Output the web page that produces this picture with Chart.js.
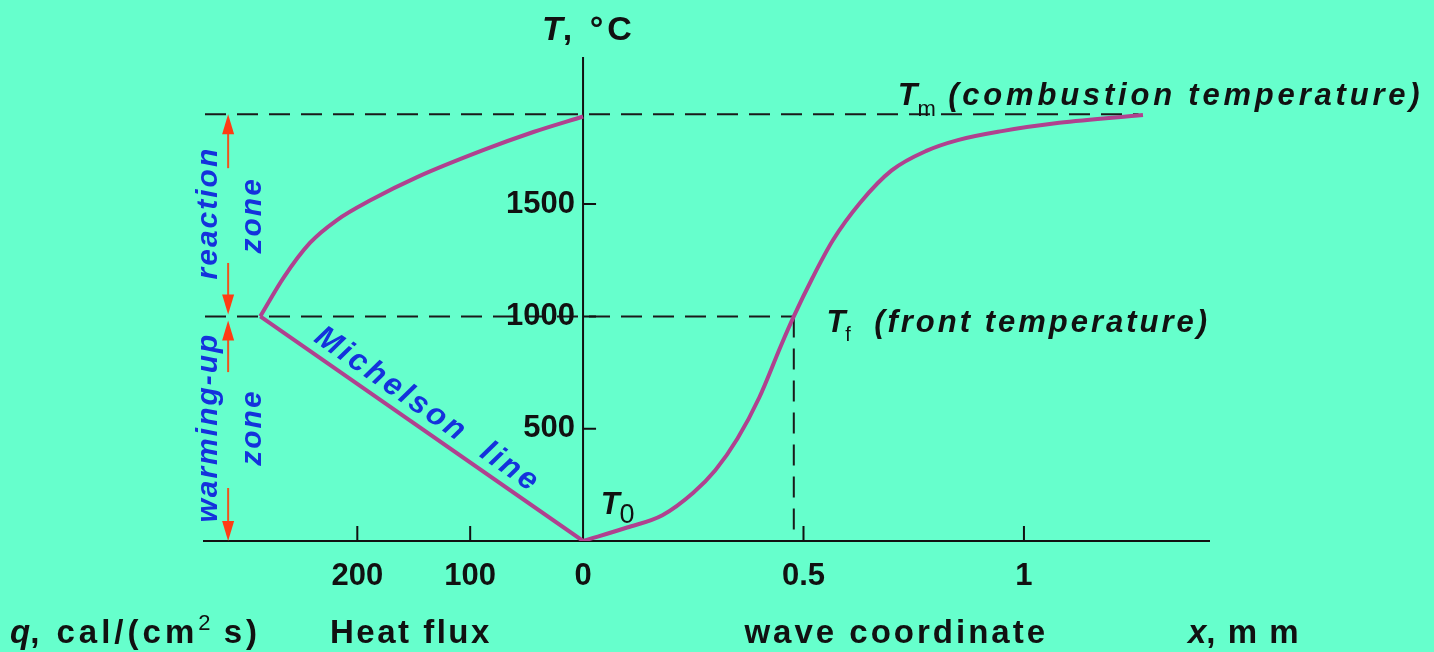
<!DOCTYPE html>
<html>
<head>
<meta charset="utf-8">
<script src="https://cdn.jsdelivr.net/npm/chart.js@4.4.1/dist/chart.umd.min.js"></script>
<style>
  html, body { margin: 0; padding: 0; background: #66ffcc; overflow: hidden; }
  #box { width: 1434px; height: 652px; position: relative; }
</style>
</head>
<body>
<div id="box"><canvas id="wave"></canvas></div>
<script>
// values
const fluxTicks = [200, 100];          // cal/(cm2 s), drawn to the left of 0
const coordTicks = [0.5, 1];           // mm, to the right of 0
const tempTicks = [500, 1000, 1500];   // degC

// Michelson line (heat flux vs temperature)
const michelsonFlux = [286, 0];
const michelsonTemp = [1000, 0];

// reaction zone branch
const reactionFlux = [286, 265, 242, 218, 188, 147, 88, 44, 0];
const reactionTemp = [1000, 1175, 1327, 1429, 1518, 1620, 1741, 1821, 1890];

// temperature profile in the combustion wave
const waveX = [0, 0.1, 0.18, 0.25, 0.3, 0.35, 0.4, 0.45, 0.478, 0.52, 0.567, 0.628, 0.7, 0.78, 0.85, 0.95, 1.08, 1.27];
const waveTemp = [0, 60, 115, 215, 315, 455, 640, 875, 1000, 1170, 1340, 1505, 1650, 1738, 1785, 1825, 1862, 1897];

const tempMax = 1900;    // Tm
const tempFront = 1000;  // Tf
const xFront = 0.478;    // where the profile reaches Tf

// the flux half shares the x axis: 100 cal/(cm2 s) takes the room of 0.256 mm
const fluxScale = 0.00256;
const fluxToX = (q) => -q * fluxScale;

const curveColor = "#b0418f";
const inkColor = "#111111";
const blueText = "#1432dc";
const arrowColor = "#f0541e";

const pts = (xs, ys) => xs.map((v, i) => ({ x: v, y: ys[i] }));

function drawRuns(ctx, x, y, runs) {
  let cx = x;
  runs.forEach((r) => {
    ctx.font = r.font;
    ctx.letterSpacing = r.spacing || "0px";
    ctx.fillText(r.text, cx, y + (r.dy || 0));
    cx += ctx.measureText(r.text).width;
  });
  ctx.letterSpacing = "0px";
}

function arrow(ctx, x, y1, y2) {
  // line from y1 to y2, head at y2
  const dir = y2 > y1 ? 1 : -1;
  ctx.strokeStyle = arrowColor;
  ctx.lineWidth = 2;
  ctx.beginPath();
  ctx.moveTo(x, y1);
  ctx.lineTo(x, y2 - dir * 14);
  ctx.stroke();
  ctx.fillStyle = "#ff3c14";
  ctx.beginPath();
  ctx.moveTo(x, y2);
  ctx.lineTo(x - 6, y2 - dir * 20);
  ctx.lineTo(x + 6, y2 - dir * 20);
  ctx.closePath();
  ctx.fill();
}

const decor = {
  id: "decor",
  beforeDatasetsDraw(chart) {
    const ctx = chart.ctx;
    const xs = chart.scales.x;
    const ys = chart.scales.y;
    const area = chart.chartArea;
    const x0 = xs.getPixelForValue(0);
    const y0 = ys.getPixelForValue(0);
    ctx.save();

    // dashed guide lines
    ctx.strokeStyle = "#1a1a1a";
    ctx.lineWidth = 2;
    ctx.setLineDash([21, 11]);
    ctx.beginPath();
    ctx.moveTo(area.left + 2, ys.getPixelForValue(tempMax));
    ctx.lineTo(xs.getPixelForValue(1.26), ys.getPixelForValue(tempMax));
    ctx.moveTo(area.left + 2, ys.getPixelForValue(tempFront));
    ctx.lineTo(xs.getPixelForValue(xFront), ys.getPixelForValue(tempFront));
    ctx.moveTo(xs.getPixelForValue(xFront), ys.getPixelForValue(tempFront));
    ctx.lineTo(xs.getPixelForValue(xFront), y0);
    ctx.stroke();
    ctx.setLineDash([]);

    // axes
    ctx.strokeStyle = inkColor;
    ctx.lineWidth = 2;
    ctx.beginPath();
    ctx.moveTo(area.left, y0);
    ctx.lineTo(area.right, y0);
    ctx.moveTo(x0, y0);
    ctx.lineTo(x0, area.top);
    ctx.stroke();

    // tick marks
    ctx.beginPath();
    tempTicks.forEach((t) => {
      const py = ys.getPixelForValue(t);
      ctx.moveTo(x0, py);
      ctx.lineTo(x0 + 13, py);
    });
    fluxTicks.map(fluxToX).concat(coordTicks).forEach((v) => {
      const px = xs.getPixelForValue(v);
      ctx.moveTo(px, y0);
      ctx.lineTo(px, y0 - 15);
    });
    ctx.stroke();

    // tick labels
    ctx.fillStyle = inkColor;
    ctx.font = "bold 31px 'Liberation Sans', Arial, sans-serif";
    ctx.textBaseline = "middle";
    ctx.textAlign = "right";
    tempTicks.forEach((t) => {
      ctx.fillText(String(t), x0 - 8, ys.getPixelForValue(t));
    });
    ctx.textAlign = "center";
    ctx.textBaseline = "top";
    fluxTicks.forEach((q) => {
      ctx.fillText(String(q), xs.getPixelForValue(fluxToX(q)), y0 + 20);
    });
    ctx.fillText("0", x0, y0 + 20);
    coordTicks.forEach((v) => {
      ctx.fillText(String(v), xs.getPixelForValue(v), y0 + 20);
    });
    ctx.restore();
  },
  afterDatasetsDraw(chart) {
    const ctx = chart.ctx;
    const xs = chart.scales.x;
    const ys = chart.scales.y;
    const px = (v) => xs.getPixelForValue(v);
    const py = (v) => ys.getPixelForValue(v);
    const bi = (s) => "italic bold " + s + "px 'Liberation Sans', Arial, sans-serif";
    const b = (s) => "bold " + s + "px 'Liberation Sans', Arial, sans-serif";
    const n = (s) => s + "px 'Liberation Sans', Arial, sans-serif";
    ctx.save();
    ctx.fillStyle = inkColor;
    ctx.textAlign = "left";
    ctx.textBaseline = "alphabetic";

    // axis titles
    drawRuns(ctx, px(-0.093), py(2230), [
      { text: "T", font: bi(34) },
      { text: ", °C", font: b(34), spacing: "4px" },
    ]);
    drawRuns(ctx, px(0.714), py(1941), [
      { text: "T", font: bi(32) },
      { text: "m", font: n(22), dy: 11 },
      { text: " (combustion temperature)", font: bi(31), spacing: "3.8px" },
    ]);
    drawRuns(ctx, px(0.552), py(930), [
      { text: "T", font: bi(31) },
      { text: "f", font: n(20), dy: 9 },
      { text: "  (front temperature)", font: bi(31), spacing: "3px" },
    ]);
    drawRuns(ctx, px(0.04), py(120), [
      { text: "T", font: bi(31) },
      { text: "0", font: n(27), dy: 9 },
    ]);

    // bottom captions
    const capY = py(-455);
    drawRuns(ctx, 10, capY, [
      { text: "q", font: bi(33) },
      { text: ", cal/(cm", font: b(33), spacing: "4px" },
      { text: "2", font: n(22), dy: -13 },
      { text: " s)", font: b(33), spacing: "4px" },
    ]);
    drawRuns(ctx, px(-0.574), capY, [{ text: "Heat flux", font: b(33), spacing: "2.5px" }]);
    drawRuns(ctx, px(0.366), capY, [{ text: "wave coordinate", font: b(33), spacing: "3px" }]);
    drawRuns(ctx, px(1.372), capY, [
      { text: "x", font: bi(33) },
      { text: ", m m", font: b(33), spacing: "1.5px" },
    ]);

    // Michelson line label, along the line
    const ax = px(fluxToX(michelsonFlux[0]));
    const ay = py(michelsonTemp[0]);
    const bx = px(fluxToX(michelsonFlux[1]));
    const by = py(michelsonTemp[1]);
    const ang = Math.atan2(by - ay, bx - ax);
    ctx.save();
    ctx.translate(px(-0.353), py(583));
    ctx.rotate(ang);
    ctx.fillStyle = blueText;
    ctx.textAlign = "center";
    ctx.textBaseline = "middle";
    ctx.font = bi(31);
    ctx.letterSpacing = "3px";
    ctx.fillText("Michelson  line", 0, 0);
    ctx.restore();

    // zone labels, vertical
    const zoneText = (label, cx, cy) => {
      ctx.save();
      ctx.translate(cx, cy);
      ctx.rotate(-Math.PI / 2);
      ctx.fillStyle = blueText;
      ctx.textAlign = "center";
      ctx.textBaseline = "middle";
      ctx.font = bi(30);
      ctx.letterSpacing = "2px";
      ctx.fillText(label, 0, 0);
      ctx.restore();
    };
    zoneText("reaction", px(-0.85), py(1460));
    zoneText("zone", px(-0.75), py(1450));
    zoneText("warming-up", px(-0.85), py(505));
    zoneText("zone", px(-0.75), py(505));

    // zone arrows
    const arX = px(-0.805);
    arrow(ctx, arX, py(1660), py(tempMax));
    arrow(ctx, arX, py(1238), py(tempFront) - 2);
    arrow(ctx, arX, py(752), py(tempFront) + 4);
    arrow(ctx, arX, py(236), py(0));
    ctx.restore();
  },
};

const ctxWave = document.getElementById("wave");

new Chart(ctxWave, {
  type: "scatter",
  data: {
    datasets: [
      {
        label: "Michelson line",
        data: pts(michelsonFlux.map(fluxToX), michelsonTemp),
        showLine: true,
        borderColor: curveColor,
        borderWidth: 4,
        pointRadius: 0,
      },
      {
        label: "reaction zone",
        data: pts(reactionFlux.map(fluxToX), reactionTemp),
        showLine: true,
        cubicInterpolationMode: "monotone",
        borderColor: curveColor,
        borderWidth: 4,
        pointRadius: 0,
      },
      {
        label: "temperature profile",
        data: pts(waveX, waveTemp),
        showLine: true,
        cubicInterpolationMode: "monotone",
        borderColor: curveColor,
        borderWidth: 4,
        pointRadius: 0,
      },
    ],
  },
  options: {
    responsive: true,
    maintainAspectRatio: false,
    animation: false,
    layout: { padding: { left: 203, right: 224, top: 57, bottom: 111 } },
    plugins: { legend: { display: false }, tooltip: { enabled: false } },
    scales: {
      x: { type: "linear", min: -0.862, max: 1.422, display: false },
      y: { type: "linear", min: 0, max: 2155, display: false },
    },
  },
  plugins: [decor],
});
</script>
</body>
</html>
